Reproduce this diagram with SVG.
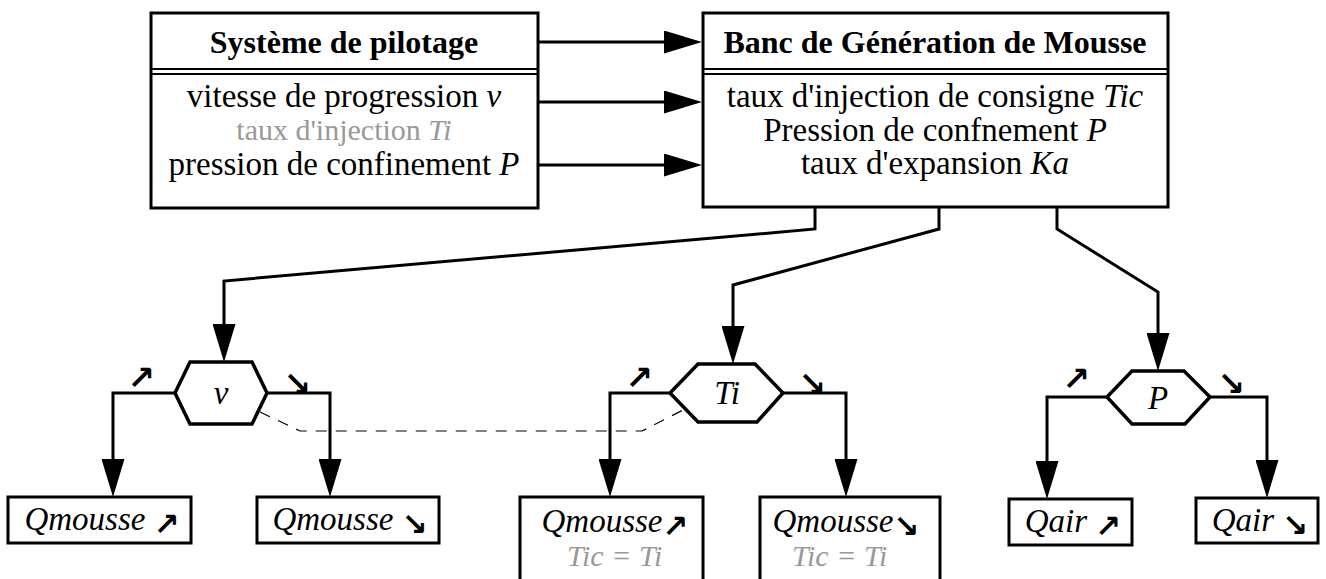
<svg xmlns="http://www.w3.org/2000/svg" width="1326" height="579" viewBox="0 0 1326 579">
  <style>
    .box { fill: #fff; stroke: #000; stroke-width: 3; }
    .sep { stroke: #000; stroke-width: 2; fill: none; }
    .hex { fill: #fff; stroke: #000; stroke-width: 3.5; stroke-linejoin: miter; }
    .link { fill: none; stroke: #000; stroke-width: 3; marker-end: url(#head); }
    .dash { fill: none; stroke: #000; stroke-width: 1.2; stroke-dasharray: 11 9; }
    text { font-family: "Liberation Serif", "Times New Roman", serif; fill: #000; }
    .title { font-size: 32px; font-weight: bold; text-anchor: middle; }
    .body { font-size: 33px; text-anchor: middle; }
    .grey { font-size: 30px; text-anchor: middle; fill: #999; }
    .greyi { font-size: 30px; font-style: italic; fill: #999; }
    .var { font-size: 33px; font-style: italic; text-anchor: middle; }
    .q { font-size: 33px; font-style: italic; text-anchor: middle; }
    .arw { font-family: "DejaVu Sans", sans-serif; font-weight: bold; font-style: normal; font-size: 31px; }
    .tag { font-family: "DejaVu Sans", sans-serif; font-weight: bold; font-size: 33px; text-anchor: middle; }
  </style>
  <defs>
    <marker id="head" viewBox="0 0 38 23" markerWidth="38" markerHeight="23" markerUnits="userSpaceOnUse" refX="28" refY="11.5" orient="auto">
      <path d="M0,0 L38,11.5 L0,23 Z" fill="#000"/>
    </marker>
  </defs>

  <!-- control system box -->
  <g id="pilotage">
    <rect class="box" x="151" y="13" width="387" height="195"/>
    <line class="sep" x1="151" y1="69" x2="538" y2="69"/>
    <line class="sep" x1="151" y1="74" x2="538" y2="74"/>
    <text class="title" x="344" y="53">Système de pilotage</text>
    <text class="body" x="344" y="107">vitesse de progression <tspan font-style="italic">v</tspan></text>
    <text class="grey" x="344" y="140">taux d'injection <tspan font-style="italic">Ti</tspan></text>
    <text class="body" x="344" y="175">pression de confinement <tspan font-style="italic">P</tspan></text>
  </g>

  <!-- foam generation bench box -->
  <g id="banc">
    <rect class="box" x="703" y="13" width="465" height="194"/>
    <line class="sep" x1="703" y1="69" x2="1168" y2="69"/>
    <line class="sep" x1="703" y1="74" x2="1168" y2="74"/>
    <text class="title" x="935" y="53">Banc de Génération de Mousse</text>
    <text class="body" x="935" y="107">taux d'injection de consigne <tspan font-style="italic">Tic</tspan></text>
    <text class="body" x="935" y="141">Pression de confnement <tspan font-style="italic">P</tspan></text>
    <text class="body" x="935" y="174">taux d'expansion <tspan font-style="italic">Ka</tspan></text>
  </g>

  <!-- decision hexagons -->
  <g id="hex-v">
    <polygon class="hex" points="190,362 252,362 267,393 252,424 190,424 175,393"/>
    <text class="var" x="221" y="404">v</text>
    <text class="tag" x="141" y="389">↗</text>
    <text class="tag" x="297" y="395">↘</text>
  </g>
  <g id="hex-ti">
    <polygon class="hex" points="698,364 755,364 783,393 757,422 698,422 670,393"/>
    <text class="var" x="727" y="404">Ti</text>
    <text class="tag" x="639" y="389">↗</text>
    <text class="tag" x="812" y="395">↘</text>
  </g>
  <g id="hex-p">
    <polygon class="hex" points="1132,371 1184,371 1210,397 1185,424 1132,424 1107,397"/>
    <text class="var" x="1158" y="409">P</text>
    <text class="tag" x="1076" y="390">↗</text>
    <text class="tag" x="1231" y="395">↘</text>
  </g>

  <!-- outcome boxes -->
  <g id="qmousse-up-v">
    <rect class="box" x="8" y="497" width="183" height="46"/>
    <text class="q" x="102" y="530">Qmousse <tspan class="arw" dy="5">↗</tspan></text>
  </g>
  <g id="qmousse-down-v">
    <rect class="box" x="257" y="497" width="182" height="46"/>
    <text class="q" x="350" y="530">Qmousse <tspan class="arw" dy="5">↘</tspan></text>
  </g>
  <g id="qmousse-up-ti">
    <rect class="box" x="520" y="497" width="183" height="110"/>
    <text class="q" x="615" y="532">Qmousse<tspan class="arw" dy="5">↗</tspan></text>
    <text class="greyi" x="567" y="566">Tic = Ti</text>
  </g>
  <g id="qmousse-down-ti">
    <rect class="box" x="760" y="497" width="180" height="110"/>
    <text class="q" x="846" y="532">Qmousse<tspan class="arw" dy="5">↘</tspan></text>
    <text class="greyi" x="792" y="566">Tic = Ti</text>
  </g>
  <g id="qair-up">
    <rect class="box" x="1009" y="499" width="123" height="46"/>
    <text class="q" x="1073" y="532">Qair <tspan class="arw" dy="5">↗</tspan></text>
  </g>
  <g id="qair-down">
    <rect class="box" x="1196" y="498" width="122" height="45"/>
    <text class="q" x="1260" y="531">Qair <tspan class="arw" dy="5">↘</tspan></text>
  </g>

  <!-- connectors -->
  <g id="connectors">
    <path class="link" d="M538,42 H692"/>
    <path class="link" d="M538,102 H692"/>
    <path class="link" d="M538,165 H692"/>

    <path class="link" d="M815,207 V229 L224,281 V352"/>
    <path class="link" d="M939,207 V229 L733,285 V354"/>
    <path class="link" d="M1057,207 V229 L1158,292 V361"/>

    <path class="link" d="M175,393 H113 V487"/>
    <path class="link" d="M267,393 H330 V487"/>
    <path class="link" d="M670,393 H610 V487"/>
    <path class="link" d="M783,393 H846 V487"/>
    <path class="link" d="M1107,397 H1047 V489"/>
    <path class="link" d="M1210,397 H1267 V488"/>

    <path class="dash" d="M260,412 L300,431 H642 L683,410"/>
  </g>
</svg>
